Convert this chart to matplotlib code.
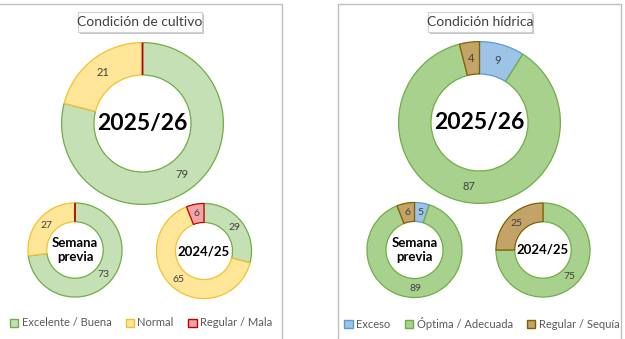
import numpy as np
import matplotlib
matplotlib.use('agg')
import matplotlib.pyplot as plt
from matplotlib.patches import Rectangle, Patch

plt.rcParams['font.family'] = ['Lato', 'DejaVu Sans']

# data
cultivo_cats = ['Excelente / Buena', 'Normal', 'Regular / Mala']
cultivo_actual = [79, 21, 0]
cultivo_previa = [73, 27, 0]
cultivo_anterior = [29, 65, 6]

hidrica_cats = ['Exceso', 'Óptima / Adecuada', 'Regular / Sequía']
hidrica_actual = [9, 87, 4]
hidrica_previa = [5, 89, 6]
hidrica_anterior = [0, 75, 25]

cultivo_fill = ['#C5E0B4', '#FFE699', '#F2A3A6']
cultivo_edge = ['#70AD47', '#F2C12E', '#C00000']
hidrica_fill = ['#9DC3E6', '#A9D18E', '#C3A368']
hidrica_edge = ['#5B9BD5', '#70AD47', '#7F6000']

W, H = 625, 339
fig = plt.figure(figsize=(W / 100, H / 100), dpi=100)
fig.patch.set_facecolor('white')


def px_rect(x0, y0, w, h, **kw):
    # rectangle in pixel coordinates (origin top-left)
    r = Rectangle((x0 / W, 1 - (y0 + h) / H), w / W, h / H,
                  transform=fig.transFigure, **kw)
    fig.add_artist(r)
    return r


def donut(cx, cy, r, vals, fills, edges, center, center_size, lab_size=8):
    ax = fig.add_axes([(cx - r) / W, 1 - (cy + r) / H, 2 * r / W, 2 * r / H])
    wedges, _ = ax.pie(vals, colors=fills, startangle=90, counterclock=False,
                       radius=1, wedgeprops=dict(width=0.4, linewidth=0.9))
    for w, e, v in zip(wedges, edges, vals):
        w.set_edgecolor(e)
        if v == 0:
            w.set_linewidth(1.3)
            continue
        th = np.deg2rad((w.theta1 + w.theta2) / 2)
        ax.text(0.8 * np.cos(th), 0.8 * np.sin(th), str(v), ha='center',
                va='center', fontsize=lab_size, color='#404040')
    ax.text(0, 0, center, ha='center', va='center', fontsize=center_size,
            fontweight='bold', color='black', linespacing=1.15)
    ax.set_xlim(-1.02, 1.02)
    ax.set_ylim(-1.02, 1.02)
    ax.axis('off')
    return ax


# panel frames
px_rect(-2, 4, 284, 340, facecolor='none', edgecolor='#BFBFBF', linewidth=1)
px_rect(338, 4, 283, 340, facecolor='none', edgecolor='#BFBFBF', linewidth=1)


def title_box(cx, cy, w, h, text):
    px_rect(cx - w / 2 + 1.5, cy - h / 2 + 2, w, h, facecolor='#C8C8C8',
            edgecolor='none')
    px_rect(cx - w / 2, cy - h / 2, w, h, facecolor='white',
            edgecolor='#D0D0D0', linewidth=0.8)
    fig.text(cx / W, 1 - cy / H, text, ha='center', va='center',
             fontsize=10, color='#404040')


title_box(140, 22, 124, 19, 'Condición de cultivo')
title_box(480, 22, 104, 19, 'Condición hídrica')

# left panel
donut(142.5, 123.5, 82.5, cultivo_actual, cultivo_fill, cultivo_edge, '2025/26', 16.5)
donut(75, 250, 48, cultivo_previa, cultivo_fill, cultivo_edge, 'Semana\nprevia', 9.5, 7.5)
donut(204, 251, 48.5, cultivo_anterior, cultivo_fill, cultivo_edge, '2024/25', 9.5, 7.5)

# right panel
donut(479.5, 122.5, 82.5, hidrica_actual, hidrica_fill, hidrica_edge, '2025/26', 16.5)
donut(414.5, 250, 48.5, hidrica_previa, hidrica_fill, hidrica_edge, 'Semana\nprevia', 9.5, 7.5)
donut(543, 250, 48, hidrica_anterior, hidrica_fill, hidrica_edge, '2024/25', 9.5, 7.5)

# legends
for cats, fills, edges, cx in [(cultivo_cats, cultivo_fill, cultivo_edge, 141),
                               (hidrica_cats, hidrica_fill, hidrica_edge, 482)]:
    handles = [Patch(facecolor=f, edgecolor=e, linewidth=1)
               for f, e in zip(fills, edges)]
    fig.legend(handles, cats, loc='center', bbox_to_anchor=(cx / W, 1 - 323 / H),
               ncol=3, frameon=False, fontsize=8, labelcolor='#595959',
               handlelength=0.75, handleheight=0.75, handletextpad=0.3,
               columnspacing=1.3, borderpad=0)

fig.savefig('out.png', dpi=100)
